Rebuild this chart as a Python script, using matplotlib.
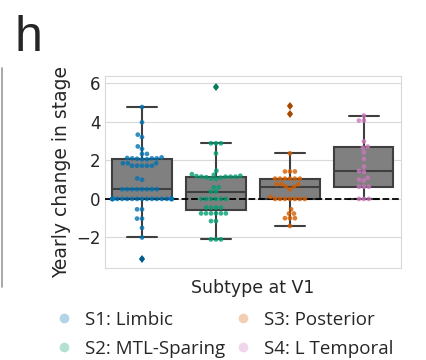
import numpy as np
import pandas as pd
import matplotlib
matplotlib.use("Agg")
import matplotlib.pyplot as plt
from matplotlib.lines import Line2D
import seaborn as sns

# values (yearly change in stage per subject)
subtypes = ["S1: Limbic", "S2: MTL-Sparing", "S3: Posterior", "S4: L Temporal"]
colors = ["#0173b2", "#029e73", "#d55e00", "#cc78bc"]

s1_vals = [4.76, 3.97, 3.33, 3.2, 2.72, 2.59, 2.33, 2.33,
           2.15, 2.12, 2.1, 2.1, 2.1, 2.08, 2.05, 2.05,
           1.85, 1.85, 1.85, 1.72, 1.72, 1.72, 1.72, 1.72,
           1.06, 0.99,
           0.5, 0.5, 0.5, 0.5, 0.5, 0.5, 0.5, 0.5,
           0, 0, 0, 0, 0, 0, 0, 0, 0, 0, 0, 0, 0, 0, 0, 0, 0, 0, 0, 0,
           -0.54, -0.54, -1.02, -1.02, -1.5, -2.0, -3.1]
s2_vals = [5.8, 2.88, 2.88, 2.88, 2.36, 1.46,
           1.28, 1.25, 1.2, 1.18, 1.15, 1.15, 1.15, 1.15, 1.12, 1.1, 1.05, 1.03,
           0.6, 0.6, 0.38, 0.38,
           0, 0, 0, 0, 0, 0,
           -0.45, -0.45, -0.45, -0.45,
           -0.75, -0.75, -0.75, -0.75, -0.75, -0.75,
           -1.15, -1.15, -2.1, -2.1, -2.1]
s3_vals = [4.83, 4.41, 2.36, 1.42, 1.42, 1.42,
           1.05, 1.05, 1.05, 1.05, 1.05, 1.05,
           0.76, 0.76, 0.76, 0.5, 0.64, 0.64, 0.1,
           0, 0, 0, 0, 0, 0, 0,
           -0.54, -0.76, -0.76, -1.0, -1.0, -1.0, -1.4]
s4_vals = [4.32, 4.06, 4.06, 2.98, 2.71, 2.65, 2.41, 2.07, 1.67, 1.45, 1.4,
           1.1, 1.0, 0.95, 0.63, 0.63, 0.63, 0, 0, 0]

all_vals = [s1_vals, s2_vals, s3_vals, s4_vals]
df = pd.DataFrame({
    "subtype": [s for s, v in zip(subtypes, all_vals) for _ in v],
    "change": [x for v in all_vals for x in v],
})

sns.set_style("whitegrid", {"grid.color": ".85", "axes.edgecolor": ".85"})
plt.rcParams["font.family"] = ["DejaVu Sans"]

fig = plt.figure(figsize=(4.26, 3.6), dpi=100)
ax = fig.add_axes([0.2465, 0.2556, 0.6945, 0.5334])

sns.swarmplot(data=df, x="subtype", y="change", order=subtypes, hue="subtype",
              palette=colors, size=3.4, alpha=0.8, legend=False, ax=ax, zorder=4)

edge = "#3f3f3f"
bp = ax.boxplot(all_vals, positions=range(4), widths=0.8, patch_artist=True,
                manage_ticks=False,
                boxprops=dict(facecolor="#808080", edgecolor=edge, linewidth=1.5),
                whiskerprops=dict(color=edge, linewidth=1.5),
                capprops=dict(color=edge, linewidth=1.5),
                medianprops=dict(color=edge, linewidth=1.5),
                flierprops=dict(marker="d", markersize=4.5, markeredgewidth=0))
for fl, c in zip(bp["fliers"], colors):
    dark = tuple(0.78 * x for x in matplotlib.colors.to_rgb(c))
    fl.set_markerfacecolor(dark)
    fl.set_zorder(4)

ax.axhline(0, color="black", linestyle="--", linewidth=1.3, zorder=3)

ax.set_xlim(-0.5, 3.5)
ax.set_ylim(-3.58, 6.37)
ax.set_yticks([-2, 0, 2, 4, 6])
ax.set_xticks([])
ax.grid(axis="x", visible=False)
ax.tick_params(axis="y", labelsize=12, pad=3, length=0)
ax.set_xlabel("Subtype at V1", fontsize=12.5, labelpad=8)
ax.set_ylabel("Yearly change in stage", fontsize=13.5, labelpad=4)

fig.text(0.035, 0.858, "h", fontsize=36, family="Liberation Sans")
fig.add_artist(Line2D([0.004, 0.004], [1 - 68 / 360, 1 - 287 / 360],
                      color="#9a9a9a", linewidth=1.2))

handles = [Line2D([], [], linestyle="", marker="o", markersize=7, markeredgewidth=0,
                  color=c, alpha=0.3) for c in colors]
leg = fig.legend(handles, subtypes, ncol=2, loc="upper left",
                 bbox_to_anchor=(0.129, 0.137), frameon=False,
                 prop={"family": "Open Sans", "size": 13.5},
                 handlelength=1.0, handletextpad=0.6, columnspacing=0.45,
                 labelspacing=0.6, borderpad=0, borderaxespad=0)
fig.savefig("out.png", dpi=100)
